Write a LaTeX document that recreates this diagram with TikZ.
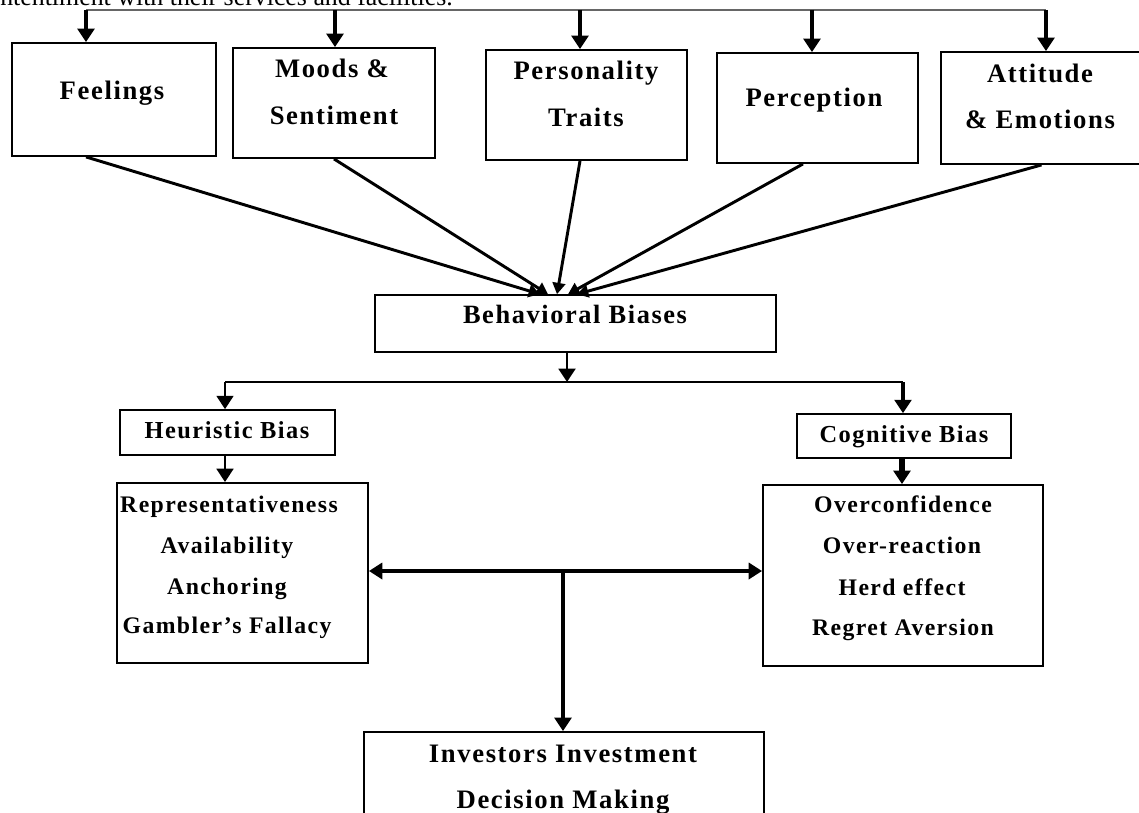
\documentclass[tikz,border=0pt]{standalone}
\usepackage{fontspec}
\setmainfont{Liberation Serif}
\newfontfamily\trk[LetterSpace=6]{Liberation Serif}
\usetikzlibrary{arrows.meta,fit,calc}
\begin{document}
\begin{tikzpicture}[x=0.75pt,y=-0.75pt,
  box/.style={draw=black,line width=1.4pt,inner sep=0pt},
  t/.style={inner sep=0pt,anchor=base},
  big/.style={t,font=\trk\bfseries\fontsize{20}{24}\selectfont},
  mid/.style={t,font=\trk\bfseries\fontsize{18.3}{22}\selectfont},
  behf/.style={t,font=\trk\bfseries\fontsize{19.8}{23}\selectfont},
  lst/.style={t,font=\trk\bfseries\fontsize{17.8}{22}\selectfont},
  inv/.style={t,font=\trk\bfseries\fontsize{20}{24}\selectfont},
  tip/.style={-{Triangle[length=10pt,width=12.5pt]}},
  smalltip/.style={-{Triangle[length=8.5pt,width=9.5pt]}},
  toparr/.style={tip,line width=2.6pt},
  conv/.style={smalltip,line width=2.2pt},
  arr/.style={tip,line width=1.8pt},
  thk/.style={tip,line width=3.2pt},
  dbl/.style={{Triangle[length=10pt,width=12pt]}-{Triangle[length=10pt,width=12pt]},line width=3.2pt}
]
\useasboundingbox (0,0) rectangle (1139,813);
\fill[white] (0,0) rectangle (1139,813);

% cut-off sentence at the top
\node[anchor=base west,inner sep=0pt,font=\fontsize{19.4}{22}\selectfont] (hdr) at (0,6) {ntentiment with their services and facilities.};

% top row boxes
\node[box,fit={(12,43) (216,156)}] (feel) {};
\node[box,fit={(233,48) (435,158)}] (mood) {};
\node[box,fit={(486,50) (687,160)}] (pers) {};
\node[box,fit={(717,53) (918,163)}] (perc) {};
\node[box,fit={(941,52) (1142,164)}] (att) {};

\node[big] (feelT) at (112,100) {Feelings};
\node[big] (moodT1) at (332,78) {Moods \&};
\node[big] (moodT2) at (334,125) {Sentiment};
\node[big] (persT1) at (586,80) {Personality};
\node[big] (persT2) at (586,127) {Traits};
\node[big] (percT) at (814,107) {Perception};
\node[big] (attT1) at (1040,83) {Attitude};
\node[big] (attT2) at (1040,129) {\& Emotions};

% top distribution line with arrows
\coordinate (a1) at (86,10);
\coordinate (a2) at (335,10);
\coordinate (a3) at (580,10);
\coordinate (a4) at (812,10);
\coordinate (a5) at (1046,10);
\draw[gray!80!black,line width=1.1pt] (a1) -- (a5);
\draw[toparr] (a1) -- (a1 |- feel.north);
\draw[toparr] (a2) -- (a2 |- mood.north);
\draw[toparr] (a3) -- (a3 |- pers.north);
\draw[toparr] (a4) -- (a4 |- perc.north);
\draw[toparr] (a5) -- (a5 |- att.north);

% behavioral biases
\node[box,line width=1.2pt,fit={(375,295) (776,352)}] (beh) {};
\node[behf] (behT) at (575,323) {Behavioral Biases};

\draw[conv] (a1 |- feel.south) -- ($(beh.north)+(-35.5,0)$);
\draw[conv] (mood.south) -- ($(beh.north)+(-27.5,0)$);
\draw[conv] (a3 |- pers.south) -- ($(beh.north)+(-18.5,0)$);
\draw[conv] ($(perc.south)+(-14.5,0)$) -- ($(beh.north)+(-7.5,0)$);
\draw[conv] (att.south) -- ($(beh.north)+(1.5,0)$);

% split
\coordinate (split) at (567,382);
\coordinate (hl) at (225,382);
\coordinate (hr) at (903,382);
\draw[arr,line width=2.2pt] (beh.south -| split) -- (split);
\draw[line width=1.6pt] (hl) -- (hr);

\node[box,line width=1.2pt,fit={(120,410) (335,455)}] (heur) {};
\node[mid] (heurT) at (227,438) {Heuristic Bias};
\node[box,line width=1.2pt,fit={(797,414) (1011,458)}] (cog) {};
\node[mid] (cogT) at (904,442) {Cognitive Bias};

\draw[arr] (hl) -- (hl |- heur.north);
\draw[arr,line width=2.4pt] (hr) -- (hr |- cog.north);

% lists
\node[box,fit={(117,483) (368,663)}] (rep) {};
\node[lst] (r1) at (229,512) {Representativeness};
\node[lst] (r2) at (227,553) {Availability};
\node[lst] (r3) at (227,594) {Anchoring};
\node[lst] (r4) at (227,633) {Gambler’s Fallacy};

\node[box,fit={(763,485) (1043,666)}] (cogl) {};
\node[lst] (c1) at (903,512) {Overconfidence};
\node[lst] (c2) at (902,553) {Over-reaction};
\node[lst] (c3) at (902,595) {Herd effect};
\node[lst] (c4) at (903,635) {Regret Aversion};

\draw[arr,line width=2pt] (hl |- heur.south) -- (hl |- rep.north);
\draw[thk,line width=4pt] ($(hr |- cog.south)+(-1,0)$) -- ($(hr |- cogl.north)+(-1,0)$);

% interaction and outcome
\coordinate (mid) at (563,571);
\draw[dbl] (mid -| rep.east) -- (mid -| cogl.west);
\node[box,fit={(364,732) (764,820)}] (invb) {};
\node[inv] (i1) at (563,762) {Investors Investment};
\node[inv] (i2) at (563,808) {Decision Making};
\draw[thk] (mid) -- (mid |- invb.north);
\end{tikzpicture}
\end{document}
